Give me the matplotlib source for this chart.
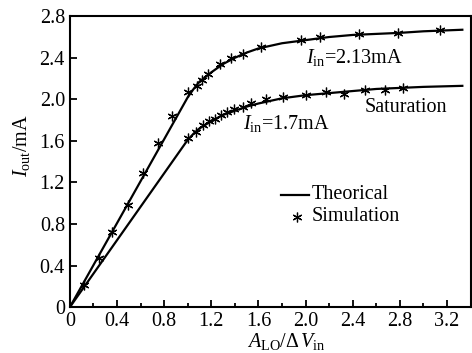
import matplotlib
matplotlib.use("Agg")
import matplotlib.pyplot as plt
from matplotlib.ticker import MultipleLocator, FuncFormatter

plt.rcParams['font.family'] = ['Liberation Serif', 'DejaVu Serif']
plt.rcParams['mathtext.fontset'] = 'custom'
plt.rcParams['mathtext.rm'] = 'Liberation Serif'
plt.rcParams['mathtext.it'] = 'Liberation Serif:italic'

# Theoretical curves
theo_hi_x = [0, 1.0, 1.05, 1.1, 1.2, 1.3, 1.4, 1.5, 1.6, 1.8, 2.0, 2.2, 2.4, 2.6, 2.8, 3.0, 3.33]
theo_hi_y = [0, 2.02, 2.10, 2.17, 2.26, 2.34, 2.40, 2.45, 2.49, 2.54, 2.57, 2.60, 2.62, 2.63, 2.64, 2.655, 2.67]
theo_lo_x = [0, 1.0, 1.05, 1.1, 1.2, 1.3, 1.4, 1.5, 1.6, 1.8, 2.0, 2.2, 2.4, 2.6, 2.8, 3.0, 3.33]
theo_lo_y = [0, 1.61, 1.67, 1.72, 1.79, 1.85, 1.89, 1.93, 1.96, 2.01, 2.04, 2.06, 2.08, 2.10, 2.11, 2.12, 2.13]

# Simulation points
sim_hi_x = [0.12, 0.25, 0.36, 0.49, 0.62, 0.75, 0.87, 1.0, 1.08, 1.12, 1.17, 1.27, 1.37, 1.47, 1.62, 1.96, 2.12, 2.45, 2.78, 3.14]
sim_hi_y = [0.21, 0.47, 0.72, 0.98, 1.29, 1.58, 1.84, 2.07, 2.13, 2.19, 2.24, 2.34, 2.40, 2.44, 2.50, 2.57, 2.60, 2.63, 2.64, 2.67]
sim_lo_x = [1.0, 1.07, 1.13, 1.18, 1.23, 1.28, 1.33, 1.39, 1.47, 1.54, 1.66, 1.81, 2.0, 2.17, 2.33, 2.50, 2.67, 2.83]
sim_lo_y = [1.63, 1.69, 1.75, 1.79, 1.81, 1.85, 1.88, 1.91, 1.93, 1.96, 2.00, 2.02, 2.04, 2.07, 2.05, 2.09, 2.09, 2.11]

fig = plt.figure(figsize=(4.72, 3.53), dpi=100)
ax = fig.add_axes([0.148, 0.130, 0.849, 0.824])

star = (6, 2, 0)
ax.plot(theo_hi_x, theo_hi_y, color='black', lw=1.6, zorder=2)
ax.plot(theo_lo_x, theo_lo_y, color='black', lw=1.6, zorder=2)
ax.plot(sim_hi_x, sim_hi_y, linestyle='none', marker=star, ms=7, mew=0.9, color='black', zorder=3)
ax.plot(sim_lo_x, sim_lo_y, linestyle='none', marker=star, ms=7, mew=0.9, color='black', zorder=3)

ax.set_xlim(0, 3.4)
ax.set_ylim(0, 2.8)
ax.xaxis.set_major_locator(MultipleLocator(0.4))
ax.xaxis.set_minor_locator(MultipleLocator(0.2))
ax.yaxis.set_major_locator(MultipleLocator(0.4))
fmt = FuncFormatter(lambda v, p: '0' if abs(v) < 1e-9 else f'{v:.1f}')
ax.xaxis.set_major_formatter(fmt)
ax.yaxis.set_major_formatter(fmt)
ax.tick_params(axis='both', which='both', direction='in', top=False, right=False,
               labelsize=14.5, width=1.3)
ax.tick_params(which='major', length=5)
ax.tick_params(which='minor', length=3)
for s in ax.spines.values():
    s.set_linewidth(1.5)

ax.set_xlabel(r'$\mathit{A}_{\mathrm{LO}}/\Delta\,\mathit{V}_{\mathrm{in}}$', fontsize=14.5)
ax.xaxis.set_label_coords(0.54, -0.082)
ax.set_ylabel(r'$\mathit{I}_{\mathrm{out}}$/mA', fontsize=14.5, va='center')
ax.yaxis.set_label_coords(-0.12, 0.557)

ax.text(2.0, 2.40, r'$\mathit{I}_{\mathrm{in}}$=2.13mA', fontsize=14.5, va='center', ha='left')
ax.text(1.47, 1.77, r'$\mathit{I}_{\mathrm{in}}$=1.7mA', fontsize=14.5, va='center', ha='left')
ax.text(2.5, 1.92, 'Saturation', fontsize=14.5, va='center', ha='left')

# legend drawn manually
ax.plot([1.79, 2.03], [1.08, 1.08], color='black', lw=1.6)
ax.text(2.05, 1.08, 'Theorical', fontsize=14.5, va='center', ha='left')
ax.plot([1.93], [0.87], marker=star, ms=7, mew=0.9, color='black')
ax.text(2.05, 0.87, 'Simulation', fontsize=14.5, va='center', ha='left')

fig.savefig('out.png', dpi=100)
